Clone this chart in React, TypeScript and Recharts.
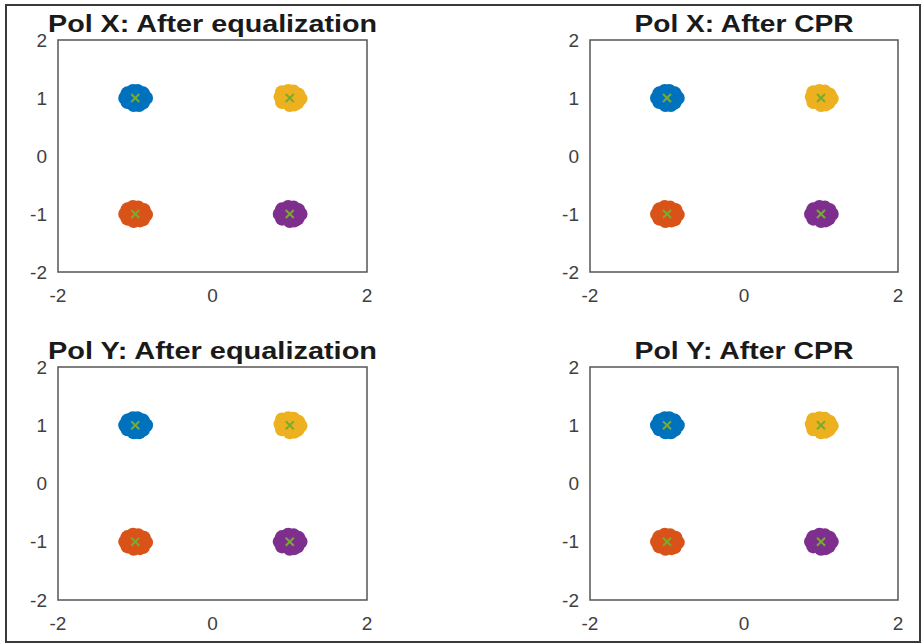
import React from 'react';
import { ScatterChart, Scatter, XAxis, YAxis, ReferenceArea } from 'recharts';

// tick labels
const xTicks = [-2, 0, 2];
const yTicks = [-2, -1, 0, 1, 2];

const titles = [
  'Pol X: After equalization',
  'Pol X: After CPR',
  'Pol Y: After equalization',
  'Pol Y: After CPR',
];

// received symbols (same look in every panel)
const bluePts = [
  { x: -1.13, y: 1.0 }, { x: -1.1, y: 1.08 }, { x: -1.1, y: 0.93 }, { x: -1.03, y: 1.12 },
  { x: -0.97, y: 1.12 }, { x: -0.9, y: 1.08 }, { x: -0.86, y: 1.0 }, { x: -0.9, y: 0.92 },
  { x: -1.02, y: 0.88 }, { x: -0.95, y: 0.88 }, { x: -1.05, y: 1.0 }, { x: -0.95, y: 1.02 },
  { x: -1.0, y: 0.96 },
];
const yellowPts = [
  { x: 0.88, y: 1.02 }, { x: 0.9, y: 1.1 }, { x: 0.9, y: 0.93 }, { x: 0.98, y: 1.12 },
  { x: 1.05, y: 1.11 }, { x: 1.11, y: 1.06 }, { x: 1.14, y: 0.99 }, { x: 1.1, y: 0.92 },
  { x: 1.0, y: 0.88 }, { x: 1.06, y: 0.89 }, { x: 0.96, y: 1.0 }, { x: 1.05, y: 1.01 },
  { x: 1.0, y: 0.97 },
];
const orangePts = [
  { x: -1.13, y: -1.0 }, { x: -1.1, y: -0.92 }, { x: -1.1, y: -1.08 }, { x: -1.03, y: -0.88 },
  { x: -0.96, y: -0.89 }, { x: -0.89, y: -0.93 }, { x: -0.86, y: -1.01 }, { x: -0.9, y: -1.09 },
  { x: -1.02, y: -1.12 }, { x: -0.94, y: -1.11 }, { x: -1.05, y: -1.0 }, { x: -0.95, y: -0.98 },
  { x: -1.0, y: -1.04 },
];
const purplePts = [
  { x: 0.87, y: -1.0 }, { x: 0.9, y: -0.92 }, { x: 0.9, y: -1.08 }, { x: 0.98, y: -0.88 },
  { x: 1.05, y: -0.89 }, { x: 1.11, y: -0.93 }, { x: 1.14, y: -1.0 }, { x: 1.1, y: -1.08 },
  { x: 1.0, y: -1.12 }, { x: 1.06, y: -1.11 }, { x: 0.96, y: -1.0 }, { x: 1.05, y: -0.99 },
  { x: 1.0, y: -1.03 },
];
// ideal constellation points
const idealPts = [
  { x: -1, y: 1 }, { x: 1, y: 1 }, { x: -1, y: -1 }, { x: 1, y: -1 },
];

const clouds = [
  { data: bluePts, color: '#0072BD' },
  { data: yellowPts, color: '#EDB120' },
  { data: orangePts, color: '#D95319' },
  { data: purplePts, color: '#7E2F8E' },
];

const panels = [
  { left: 0, top: 0, w: 400, h: 320, mr: 33, mb: 18, tw: 329 },
  { left: 532, top: 0, w: 390, h: 320, mr: 24, mb: 18, tw: 219 },
  { left: 0, top: 327, w: 400, h: 310, mr: 33, mb: 7, tw: 329 },
  { left: 532, top: 327, w: 390, h: 310, mr: 24, mb: 7, tw: 219 },
];

const tickStyle = { fontFamily: 'Liberation Sans, Arial, sans-serif', fontSize: 19, fill: '#404040' };

const dot = (color: string) => (p: any) => <circle cx={p.cx} cy={p.cy} r={7} fill={color} />;
const cross = (p: any) => (
  <g stroke="#77AC30" strokeWidth={2}>
    <line x1={p.cx - 4} y1={p.cy - 4} x2={p.cx + 4} y2={p.cy + 4} />
    <line x1={p.cx - 4} y1={p.cy + 4} x2={p.cx + 4} y2={p.cy - 4} />
  </g>
);

const Panel: React.FC<{ idx: number }> = ({ idx }) => {
  const p = panels[idx];
  const plotLeft = 58;
  const plotRight = p.w - p.mr;
  return (
    <div style={{ position: 'absolute', left: p.left, top: p.top, width: p.w, height: p.h }}>
      <svg width={p.w} height={40} style={{ position: 'absolute', left: 0, top: 0 }}>
        <text
          x={(plotLeft + plotRight) / 2}
          y={32}
          textAnchor="middle"
          textLength={p.tw}
          lengthAdjust="spacingAndGlyphs"
          style={{ fontFamily: 'Liberation Sans, Arial, sans-serif', fontWeight: 'bold', fontSize: 23, fill: '#1a1a1a' }}
        >
          {titles[idx]}
        </text>
      </svg>
      <ScatterChart width={p.w} height={p.h} margin={{ top: 40, right: p.mr, bottom: p.mb, left: 18 }}>
        <XAxis
          type="number"
          dataKey="x"
          domain={[-2, 2]}
          ticks={xTicks}
          allowDataOverflow
          axisLine={false}
          tickLine={false}
          tickSize={15}
          height={30}
          tick={tickStyle}
        />
        <YAxis
          type="number"
          dataKey="y"
          domain={[-2, 2]}
          ticks={yTicks}
          allowDataOverflow
          axisLine={false}
          tickLine={false}
          tickSize={9}
          width={40}
          tick={tickStyle}
        />
        <ReferenceArea x1={-2} x2={2} y1={-2} y2={2} fill="none" stroke="#555" strokeWidth={1.5} fillOpacity={0} />
        {clouds.map((c, i) => (
          <Scatter key={i} data={c.data} shape={dot(c.color)} isAnimationActive={false} />
        ))}
        <Scatter data={idealPts} shape={cross} isAnimationActive={false} />
      </ScatterChart>
    </div>
  );
};

export default function App() {
  return (
    <div style={{ position: 'absolute', left: 0, top: 0, width: 922, height: 644, overflow: 'hidden', background: '#fff' }}>
      <div
        style={{
          position: 'absolute', left: 5, top: 4, width: 916, height: 639,
          boxSizing: 'border-box', border: '2px solid #3a3a3a',
        }}
      />
      {[0, 1, 2, 3].map(i => <Panel key={i} idx={i} />)}
    </div>
  );
}
